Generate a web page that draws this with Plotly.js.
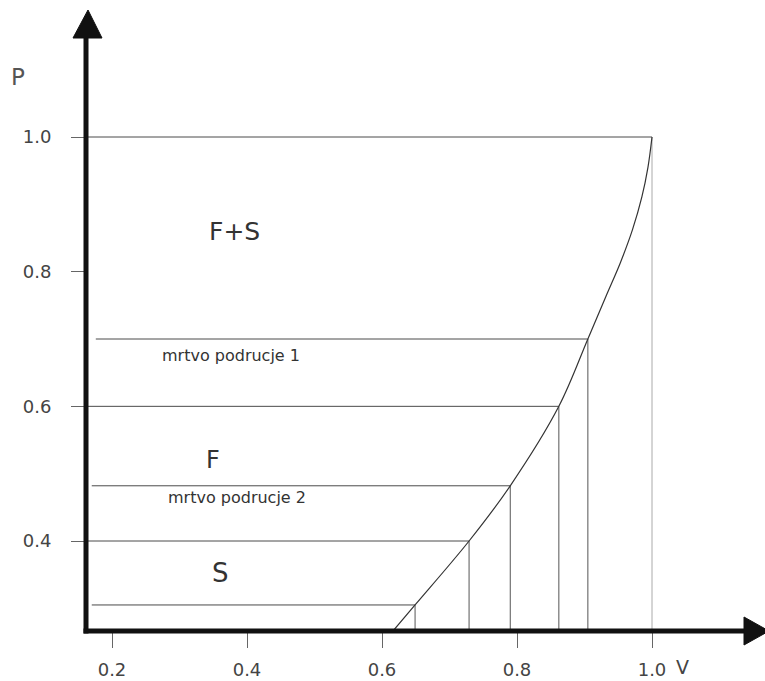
<!DOCTYPE html>
<html>
<head>
<meta charset="utf-8">
<script src="https://cdn.plot.ly/plotly-3.0.1.min.js"></script>
<style>html,body{margin:0;padding:0;background:#fff;}#chart{width:765px;height:681px;}</style>
</head>
<body>
<div id="chart"></div>
<script>
// Curve V -> P
const vCurve = [0.616, 0.649, 0.729, 0.790, 0.862, 0.905, 0.932, 0.953, 0.971, 0.985, 0.994, 1.0];
const pCurve = [0.266, 0.305, 0.400, 0.482, 0.600, 0.700, 0.764, 0.813, 0.862, 0.911, 0.955, 1.0];
// Reference levels on the curve
const levelP = [0.305, 0.400, 0.482, 0.600, 0.700, 1.0];
const levelV = [0.649, 0.729, 0.790, 0.862, 0.905, 1.0];
const levelStartV = [0.170, 0.1615, 0.170, 0.1615, 0.176, 0.1615];
// Axes
const xTickVals = [0.2, 0.4, 0.6, 0.8, 1.0];
const xTickText = ['0.2', '0.4', '0.6', '0.8', '1.0'];
const yTickVals = [0.4, 0.6, 0.8, 1.0];
const yTickText = ['0.4', '0.6', '0.8', '1.0'];
const xRange = [0.16148, 1.16741];
const yRange = [0.26633, 1.20348];
// Region labels
const regionText = ['F+S', 'mrtvo podrucje 1', 'F', 'mrtvo podrucje 2', 'S'];
const regionV = [0.382, 0.377, 0.349, 0.385, 0.361];
const regionP = [0.859, 0.676, 0.520, 0.464, 0.352];
const regionSize = [25, 16, 24, 16, 26];
const axisXName = 'V', axisYName = 'P';

// horizontal & vertical guide lines
const hx = [], hy = [], vx = [], vy = [];
for (let i = 0; i < levelP.length; i++) {
  hx.push(levelStartV[i], levelV[i], null); hy.push(levelP[i], levelP[i], null);
  if (i < levelP.length - 1) { vx.push(levelV[i], levelV[i], null); vy.push(levelP[i], yRange[0], null); }
}
const last = levelP.length - 1;

const traces = [
  {x: hx, y: hy, mode: 'lines', line: {color: '#4a4a4a', width: 1}, hoverinfo: 'skip'},
  {x: vx, y: vy, mode: 'lines', line: {color: '#555', width: 1}, hoverinfo: 'skip'},
  {x: [levelV[last], levelV[last]], y: [levelP[last], yRange[0]], mode: 'lines', line: {color: '#aaa', width: 1}, hoverinfo: 'skip'},
  {x: vCurve, y: pCurve, mode: 'lines', line: {color: '#333', width: 1.2, shape: 'spline', smoothing: 1}, hoverinfo: 'skip'}
];

const fam = 'DejaVu Sans, sans-serif';
const annotations = regionText.map((t, i) => ({
  x: regionV[i], y: regionP[i], xref: 'x', yref: 'y', text: t, showarrow: false,
  xanchor: 'center', yanchor: 'middle',
  font: {family: fam, color: '#333', size: regionSize[i]}
}));
annotations.push({xref: 'paper', yref: 'paper', x: -0.1001, y: 0.878, xanchor: 'center', yanchor: 'middle', text: axisYName, showarrow: false, font: {family: fam, color: '#555', size: 23}});
annotations.push({xref: 'paper', yref: 'paper', x: 0.879, y: -0.057, xanchor: 'center', yanchor: 'middle', text: axisXName, showarrow: false, font: {family: fam, color: '#444', size: 19}});

// axis lines with arrowheads (paper coords)
const W = 679, H = 631; // plot area px
const yArrowTip = (631 - 10) / H, yArrowBase = (631 - 38) / H;
const xArrowTip = 1.0, xArrowBase = (744 - 86) / W;
const shapes = [
  {type: 'line', xref: 'paper', yref: 'paper', x0: 0, x1: 0, y0: -2.5 / H, y1: yArrowBase + 1 / H, line: {color: '#111', width: 5}},
  {type: 'line', xref: 'paper', yref: 'paper', x0: -2.5 / W, x1: xArrowBase + 1 / W, y0: 0, y1: 0, line: {color: '#111', width: 5}},
  {type: 'path', xref: 'paper', yref: 'paper', fillcolor: '#111', line: {color: '#111', width: 1},
   path: `M ${-13 / W} ${yArrowBase} L ${16 / W} ${yArrowBase} L ${2 / W} ${yArrowTip} Z`},
  {type: 'path', xref: 'paper', yref: 'paper', fillcolor: '#111', line: {color: '#111', width: 1},
   path: `M ${xArrowBase} ${14 / H} L ${xArrowBase} ${-14 / H} L ${xArrowTip + 4 / W} ${0} Z`}
];

const layout = {
  width: 765, height: 681,
  margin: {l: 86, r: 0, t: 0, b: 50},
  paper_bgcolor: '#fff', plot_bgcolor: '#fff',
  showlegend: false,
  font: {family: fam, color: '#444', size: 17},
  xaxis: {range: xRange, tickvals: xTickVals, ticktext: xTickText, ticks: 'outside', ticklen: 16, tickcolor: '#666', tickwidth: 1,
          showgrid: false, zeroline: false, showline: false, ticklabelstandoff: 6, tickfont: {size: 18, color: '#444'}},
  yaxis: {range: yRange, tickvals: yTickVals, ticktext: yTickText, ticks: 'outside', ticklen: 14, tickcolor: '#666', tickwidth: 1,
          showgrid: false, zeroline: false, showline: false, ticklabelstandoff: 16, tickfont: {size: 18, color: '#444'}},
  annotations: annotations,
  shapes: shapes
};

Plotly.newPlot('chart', traces, layout, {staticPlot: true, displayModeBar: false});
</script>
</body>
</html>
